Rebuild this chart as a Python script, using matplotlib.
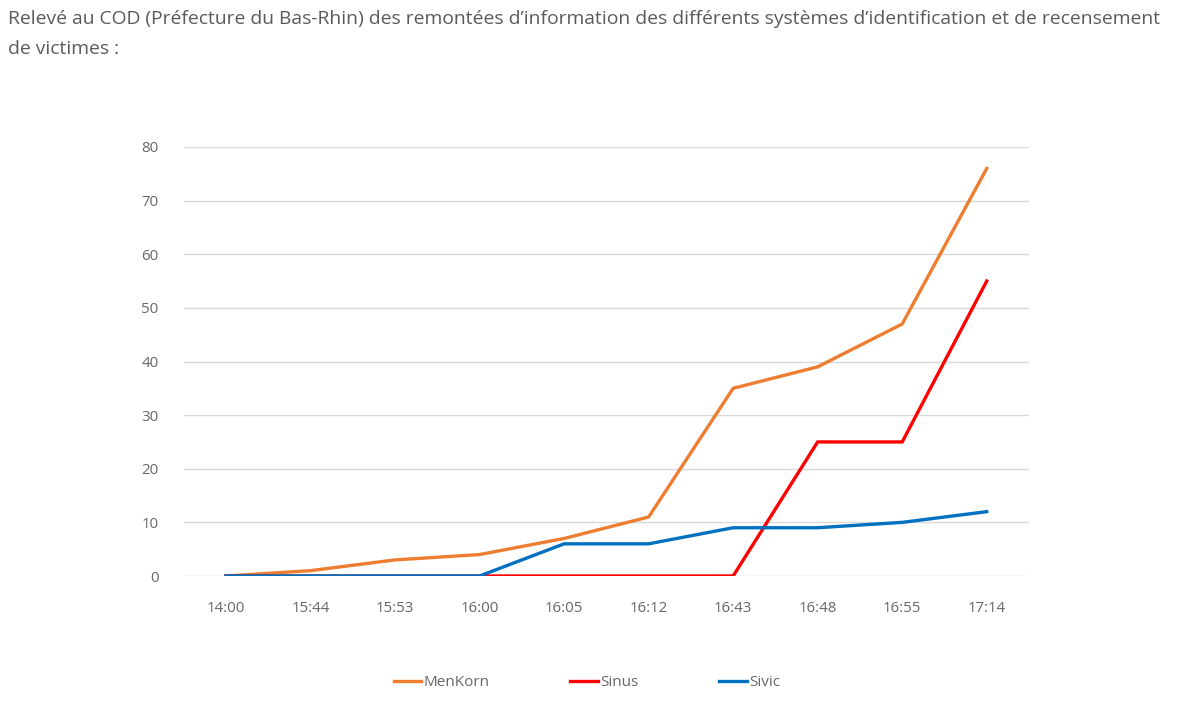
import matplotlib
matplotlib.use("Agg")
import matplotlib.pyplot as plt
import numpy as np

times = ["14:00", "15:44", "15:53", "16:00", "16:05", "16:12", "16:43", "16:48", "16:55", "17:14"]
menkorn = [0, 1, 3, 4, 7, 11, 35, 39, 47, 76]
sinus = [0, 0, 0, 0, 0, 0, 0, 25, 25, 55]
sivic = [0, 0, 0, 0, 6, 6, 9, 9, 10, 12]
series_names = ["MenKorn", "Sinus", "Sivic"]
colors = ["#ED7D31", "#FF0000", "#0070C0"]

title = ("Relevé au COD (Préfecture du Bas-Rhin) des remontées d’information des différents systèmes d’identification et de recensement\n"
         "de victimes :")

fig = plt.figure(figsize=(11.83, 7.2), dpi=100)
ax = fig.add_axes([183.7 / 1183, 144 / 720, (1029 - 183.7) / 1183, (576 - 147) / 720])

x = np.arange(len(times))
handles = []
for name, vals, c in zip(series_names, [menkorn, sinus, sivic], colors):
    h, = ax.plot(x, vals, color=c, lw=2.4, label=name, solid_joinstyle="miter")
    handles.append(h)

ax.set_xlim(-0.5, len(times) - 0.5)
ax.set_ylim(0, 80)
ax.set_yticks(np.arange(0, 81, 10))
ax.set_xticks(x)
ax.set_xticklabels(times)
ax.grid(axis="y", color="#d9d9d9", lw=1)
ax.set_axisbelow(True)
for s in ["top", "right", "left", "bottom"]:
    ax.spines[s].set_visible(False)
ax.tick_params(axis="both", length=0, labelsize=10.8, labelcolor="#666666")
ax.tick_params(axis="y", pad=18)
ax.tick_params(axis="x", pad=18)
for lbl in ax.get_xticklabels() + ax.get_yticklabels():
    lbl.set_fontfamily("Open Sans")

fig.text(8 / 1183, 1 - 10 / 720, title, ha="left", va="top", fontsize=13.9,
         color="#5a5a5a", family="Open Sans", linespacing=1.85)

leg = fig.legend(handles=handles, loc="center", bbox_to_anchor=(587 / 1183, 1 - 683 / 720),
                 ncol=3, frameon=False, handlelength=1.8, handletextpad=0.15,
                 columnspacing=5.3, prop={"family": "Open Sans", "size": 11})
for t in leg.get_texts():
    t.set_color("#666666")

fig.savefig("out.png", dpi=100)
